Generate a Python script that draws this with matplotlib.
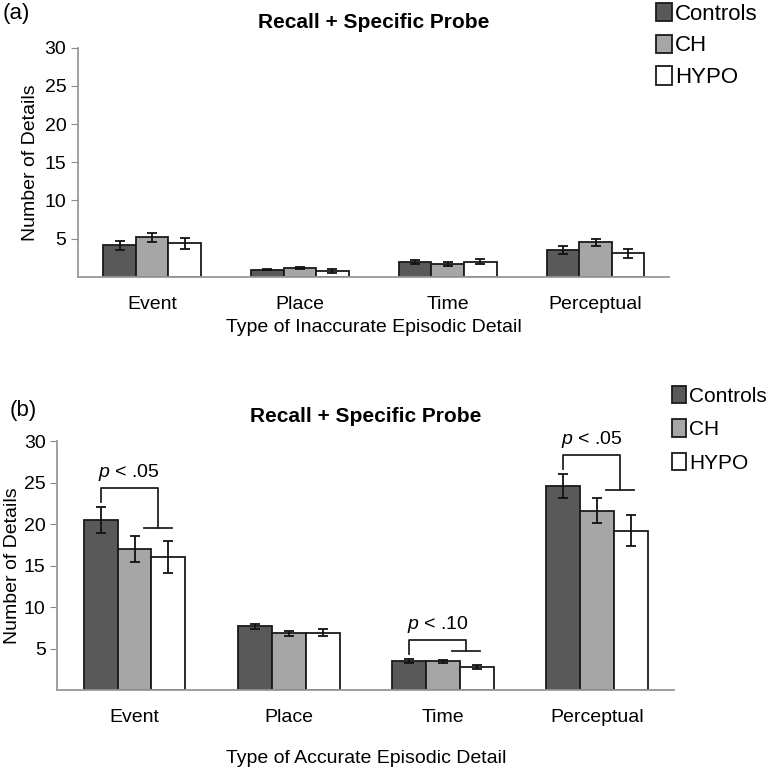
import matplotlib
matplotlib.use("Agg")
import matplotlib.pyplot as plt
import numpy as np

plt.rcParams['font.family'] = ['Liberation Sans', 'DejaVu Sans']
plt.rcParams['mathtext.fontset'] = 'custom'
plt.rcParams['mathtext.it'] = 'Liberation Sans:italic'
plt.rcParams['mathtext.rm'] = 'Liberation Sans'

categories = ["Event", "Place", "Time", "Perceptual"]
groups = ["Controls", "CH", "HYPO"]
colors = ["#595959", "#a6a6a6", "#ffffff"]

# panel (a): inaccurate details
inacc_mean = {
    "Controls": [4.1, 0.95, 1.9, 3.5],
    "CH":       [5.2, 1.2, 1.7, 4.5],
    "HYPO":     [4.4, 0.8, 2.0, 3.1],
}
inacc_err = {
    "Controls": [0.6, 0.12, 0.25, 0.5],
    "CH":       [0.6, 0.12, 0.3, 0.5],
    "HYPO":     [0.7, 0.25, 0.3, 0.6],
}
# panel (b): accurate details
acc_mean = {
    "Controls": [20.5, 7.7, 3.45, 24.6],
    "CH":       [17.0, 6.85, 3.45, 21.6],
    "HYPO":     [16.0, 6.9, 2.75, 19.2],
}
acc_err = {
    "Controls": [1.55, 0.3, 0.25, 1.45],
    "CH":       [1.55, 0.3, 0.2, 1.5],
    "HYPO":     [1.95, 0.4, 0.25, 1.85],
}
# significance brackets: (category, p-text)
sig = [(0, "< .05"), (2, "< .10"), (3, "< .05")]

W = 0.22
x = np.arange(len(categories))


def draw_panel(ax, means, errs, xlabel):
    handles = []
    for i, g in enumerate(groups):
        b = ax.bar(x + (i - 1) * W, means[g], W, color=colors[i],
                   edgecolor="#1a1a1a", linewidth=1.3, label=g, zorder=2)
        ax.errorbar(x + (i - 1) * W, means[g], yerr=errs[g], fmt="none",
                    ecolor="#111111", elinewidth=1.3, capsize=3.5,
                    capthick=1.3, zorder=3)
        handles.append(b)
    ax.set_xlim(-0.5, 3.5)
    ax.set_ylim(0, 30)
    ax.set_yticks([5, 10, 15, 20, 25, 30])
    ax.set_xticks(x)
    ax.set_xticklabels(categories, fontsize=14)
    ax.tick_params(axis="x", length=0, pad=14)
    ax.tick_params(axis="y", labelsize=14, color="#888888", length=5)
    for s in ("top", "right"):
        ax.spines[s].set_visible(False)
    for s in ("left", "bottom"):
        ax.spines[s].set_color("#999999")
        ax.spines[s].set_linewidth(1.3)
    ax.set_ylabel("Number of Details", fontsize=14)
    ax.set_xlabel(xlabel, fontsize=14)
    ax.set_title("Recall + Specific Probe", fontsize=15, fontweight="bold", pad=14)
    return handles


fig = plt.figure(figsize=(7.66, 7.71), dpi=100)
ax1 = fig.add_axes([0.102, 0.641, 0.772, 0.297])
ax2 = fig.add_axes([0.075, 0.105, 0.805, 0.323])

h1 = draw_panel(ax1, inacc_mean, inacc_err, "Type of Inaccurate Episodic Detail")
ax1.xaxis.labelpad = 4
h2 = draw_panel(ax2, acc_mean, acc_err, "Type of Accurate Episodic Detail")
ax2.xaxis.labelpad = 17
ax2.yaxis.labelpad = 2

fig.text(0.004, 0.982, "(a)", fontsize=16, va="center")
fig.text(0.012, 0.468, "(b)", fontsize=16, va="center")

fig.legend(h1, groups, loc="upper left", bbox_to_anchor=(0.845, 1.008),
           frameon=False, fontsize=16, handlelength=0.7, handleheight=0.9,
           handletextpad=0.15, labelspacing=0.45, borderaxespad=0)
fig.legend(h2, groups, loc="upper left", bbox_to_anchor=(0.866, 0.51),
           frameon=False, fontsize=15, handlelength=0.7, handleheight=0.9,
           handletextpad=0.15, labelspacing=0.65, borderaxespad=0)

# significance brackets in panel (b)
for c, txt in sig:
    m0 = acc_mean["Controls"][c] + acc_err["Controls"][c]
    m1 = acc_mean["CH"][c] + acc_err["CH"][c]
    m2 = acc_mean["HYPO"][c] + acc_err["HYPO"][c]
    xl = c - W
    xr = c + 0.55 * W + 0.03
    top = m0 + 2.3
    low = max(m1, m2) + 1.0
    ax2.plot([xl, xl, xr, xr], [m0 + 0.6, top, top, low], color="#222222", lw=1.3)
    ax2.plot([xr - 0.09, xr + 0.09], [low, low], color="#222222", lw=1.3)
    ax2.text((xl + xr) / 2, top + 0.6, r"$p$ " + txt, ha="center", va="bottom", fontsize=14)

fig.savefig("out.png", dpi=100)
